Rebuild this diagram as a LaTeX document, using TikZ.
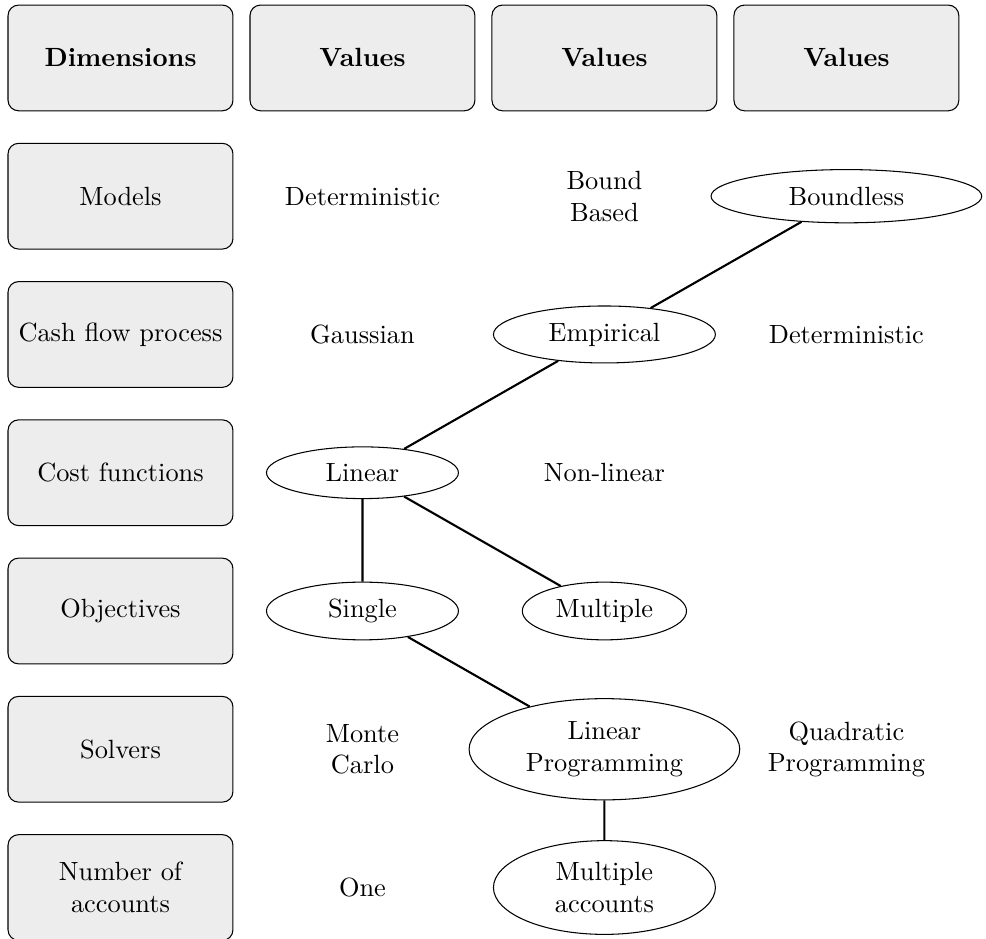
\documentclass[tikz,border=0pt]{standalone}
\usetikzlibrary{shapes.geometric}
\begin{document}
\begin{tikzpicture}[x=3.227cm, y=-1.844cm,
        box/.style={draw, thin, rounded corners, fill=black!7, minimum width=3cm, minimum height=1.41cm, align=center},
        choice/.style={draw, thin, ellipse, inner sep=0pt, align=center},
        plain/.style={align=center},
        link/.style={thick}]
        \useasboundingbox (-0.498, -0.419) rectangle (3.577, 6.371);
        % header row
        \node[box, font=\bfseries] (dims) at (0, 0) {Dimensions};
        \foreach \c in {1, 2, 3}
            \node[box, font=\bfseries] (vals\c) at (\c, 0) {Values};
        % dimension column
        \foreach \txt [count=\r] in {Models, Cash flow process, Cost functions, Objectives, Solvers, {Number of\\accounts}}
            \node[box] (dim\r) at (0, \r) {\txt};
        % values
        \node[plain] (determ) at (1, 1) {Deterministic};
        \node[plain] (bound) at (2, 1) {Bound\\Based};
        \node[choice, minimum width=3.61cm, minimum height=0.71cm] (boundless) at (3, 1) {Boundless};
        \node[plain] (gauss) at (1, 2) {Gaussian};
        \node[choice, minimum width=2.96cm, minimum height=0.76cm] (empirical) at (2, 2) {Empirical};
        \node[plain] (cashdet) at (3, 2) {Deterministic};
        \node[choice, minimum width=2.56cm, minimum height=0.69cm] (linear) at (1, 3) {Linear};
        \node[plain] (nonlin) at (2, 3) {Non-linear};
        \node[choice, minimum width=2.56cm, minimum height=0.77cm] (single) at (1, 4) {Single};
        \node[choice, minimum width=2.19cm, minimum height=0.77cm] (multi) at (2, 4) {Multiple};
        \node[plain] (monte) at (1, 5) {Monte\\Carlo};
        \node[choice, minimum width=3.61cm, minimum height=1.35cm] (linprog) at (2, 5) {Linear\\Programming};
        \node[plain] (quadprog) at (3, 5) {Quadratic\\Programming};
        \node[plain] (one) at (1, 6) {One};
        \node[choice, minimum width=2.96cm, minimum height=1.25cm] (multacc) at (2, 6) {Multiple\\accounts};
        % chosen path
        \draw[link] (boundless) -- (empirical) -- (linear) -- (single) -- (linprog) -- (multacc);
        \draw[link] (linear) -- (multi);
    \end{tikzpicture}
\end{document}
